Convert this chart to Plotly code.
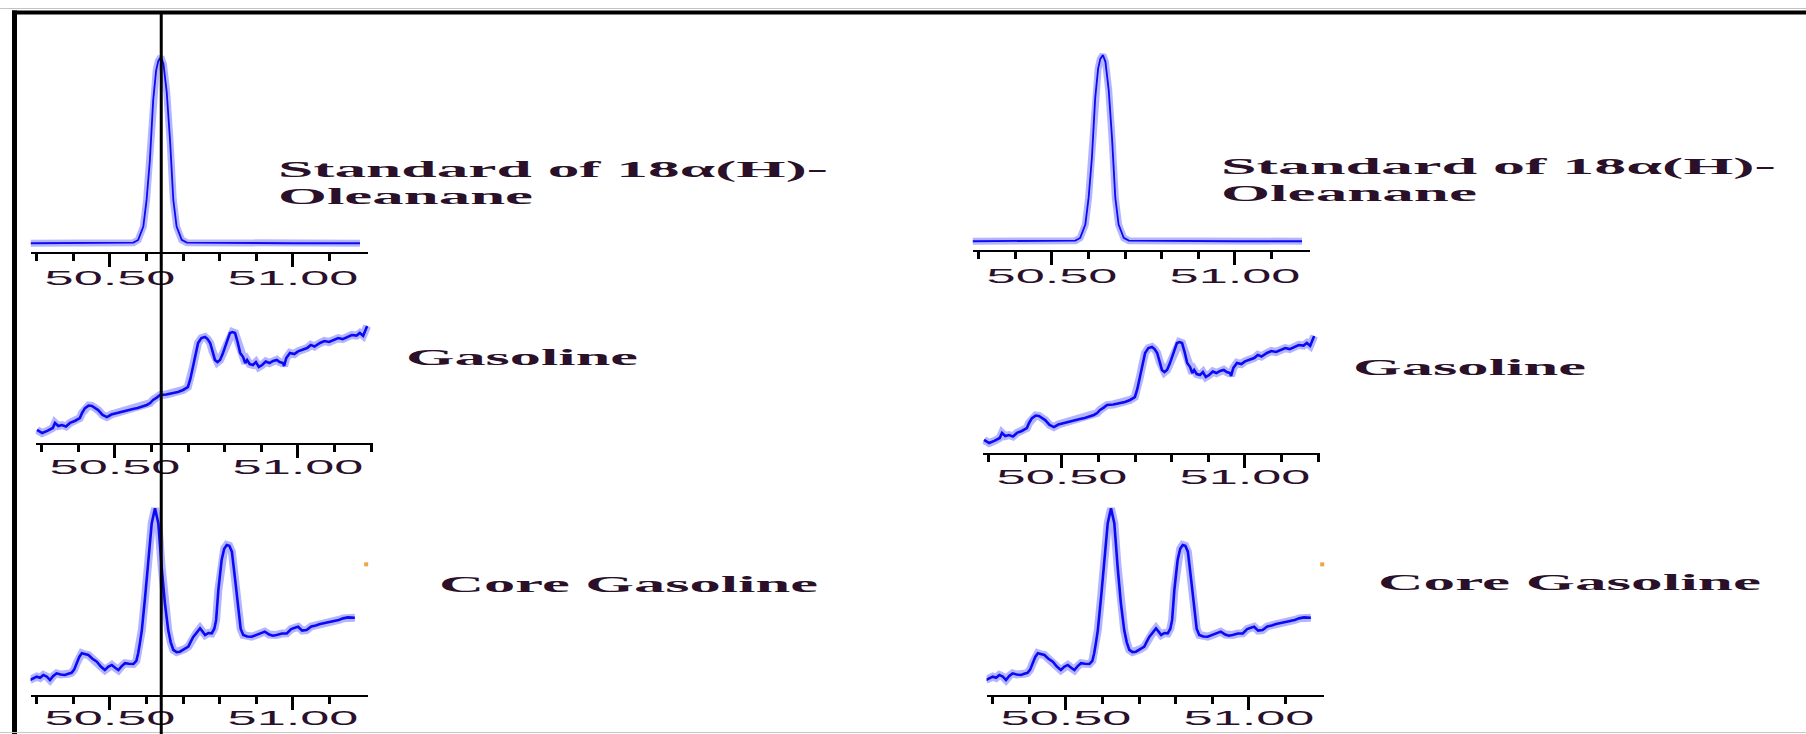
import json
import plotly.graph_objects as go

# ---- chromatogram data: retention time (min) vs. relative intensity (standard peak = 100)
STD_RT = [50.283, 50.40, 50.50, 50.564, 50.577, 50.591, 50.600, 50.609, 50.618, 50.626,
          50.632, 50.639, 50.646, 50.655, 50.664, 50.673, 50.682, 50.696, 50.710, 50.85,
          51.00, 51.183]
STD_I = [4.5, 4.5, 4.5, 4.8, 6.2, 13.0, 26.7, 47.2, 77.9, 93.0,
         98.0, 100.0, 96.5, 82.0, 57.4, 26.7, 13.0, 6.2, 4.8, 4.5,
         4.5, 4.5]

GAS_RT = [50.287, 50.301, 50.315, 50.330, 50.336, 50.345, 50.355, 50.366, 50.377, 50.390,
          50.404, 50.410, 50.418, 50.428, 50.437, 50.446, 50.454, 50.466, 50.478, 50.490,
          50.505, 50.520, 50.535, 50.549, 50.562, 50.575, 50.587, 50.596, 50.604, 50.614,
          50.623, 50.640, 50.658, 50.672, 50.686, 50.699, 50.706, 50.713, 50.720, 50.727,
          50.736, 50.746, 50.753, 50.760, 50.767, 50.773, 50.780, 50.787, 50.794, 50.801,
          50.808, 50.814, 50.821, 50.828, 50.835, 50.842, 50.850, 50.856, 50.861, 50.868,
          50.877, 50.885, 50.893, 50.902, 50.912, 50.922, 50.932, 50.942, 50.950, 50.959,
          50.962, 50.968, 50.978, 50.990, 51.000, 51.012, 51.025, 51.035, 51.045, 51.060,
          51.072, 51.085, 51.096, 51.110, 51.122, 51.134, 51.147, 51.160, 51.169, 51.178,
          51.189]
GAS_I = [6.7, 5.1, 6.2, 7.7, 10.3, 8.7, 9.2, 8.5, 10.3, 11.3,
         12.8, 15.4, 17.9, 19.2, 19.0, 18.0, 16.9, 14.4, 13.3, 14.6,
         15.4, 15.9, 16.7, 17.4, 17.9, 18.7, 19.5, 20.5, 22.1, 23.3,
         24.6, 24.9, 25.6, 26.2, 27.2, 28.7, 33.0, 39.0, 45.5, 51.3,
         53.8, 54.4, 53.3, 51.3, 46.7, 42.6, 41.5, 42.6, 45.6, 49.2,
         53.8, 56.4, 56.9, 56.4, 51.8, 46.2, 44.1, 41.0, 42.6, 40.5,
         40.0, 41.5, 39.0, 40.0, 41.8, 41.0, 42.1, 42.6, 41.5, 41.0,
         39.5, 43.6, 46.2, 45.6, 47.0, 47.7, 48.7, 50.3, 49.5, 51.3,
         52.3, 51.8, 52.8, 53.8, 53.3, 54.4, 55.4, 55.1, 56.4, 55.0,
         60.0]

CORE_RT = [50.281, 50.290, 50.300, 50.309, 50.318, 50.327, 50.336, 50.345, 50.354, 50.365,
           50.377, 50.386, 50.395, 50.402, 50.409, 50.416, 50.423, 50.432, 50.441, 50.452,
           50.464, 50.475, 50.486, 50.495, 50.505, 50.514, 50.523, 50.532, 50.541, 50.552,
           50.564, 50.572, 50.577, 50.582, 50.587, 50.596, 50.605, 50.614, 50.623, 50.632,
           50.641, 50.650, 50.659, 50.666, 50.673, 50.682, 50.691, 50.702, 50.714, 50.721,
           50.728, 50.737, 50.746, 50.753, 50.760, 50.769, 50.778, 50.785, 50.790, 50.796,
           50.805, 50.812, 50.819, 50.826, 50.833, 50.842, 50.851, 50.857, 50.864, 50.875,
           50.887, 50.900, 50.912, 50.923, 50.935, 50.945, 50.955, 50.970, 50.983, 50.995,
           51.005, 51.014, 51.025, 51.037, 51.050, 51.062, 51.074, 51.090, 51.110, 51.125,
           51.137, 51.150, 51.169]
CORE_I = [7.7, 8.7, 9.4, 8.8, 10.3, 9.5, 7.7, 9.8, 11.1, 10.5,
          10.3, 10.9, 11.4, 13.0, 16.3, 19.5, 21.4, 20.8, 20.5, 18.6,
          17.1, 14.6, 12.8, 14.4, 15.4, 14.0, 12.8, 14.8, 16.3, 16.0,
          15.9, 17.5, 21.4, 27.0, 33.3, 50.4, 70.9, 88.1, 95.7, 88.1,
          65.8, 47.0, 33.3, 27.0, 23.1, 22.0, 22.2, 23.4, 24.8, 27.5,
          29.9, 32.0, 34.2, 32.5, 30.8, 31.8, 31.6, 34.0, 38.5, 53.8,
          69.2, 75.0, 76.9, 76.5, 73.5, 59.0, 41.9, 34.0, 30.8, 30.0,
          29.9, 30.8, 31.9, 32.5, 31.0, 30.4, 30.8, 31.5, 31.6, 33.8,
          34.5, 35.0, 33.0, 33.3, 35.2, 35.6, 36.4, 37.0, 37.6, 38.5,
          39.3, 39.8, 39.6]

# retention time of the 18α(H)-oleanane standard peak (reference marker line)
OLEANANE_RT = 50.64

# stray point recorded next to the core sample traces
STRAY_RT = [51.20]
STRAY_I = [67.0]

# axis ticks
MAJOR_TICKS = [50.50, 51.00]
MAJOR_TEXT = ["50.50", "51.00"]
MINOR_TO_5110 = [50.3, 50.4, 50.6, 50.7, 50.8, 50.9, 51.1]
MINOR_TO_5120 = [50.3, 50.4, 50.6, 50.7, 50.8, 50.9, 51.1, 51.2]

# labels
LABEL_STD_1 = "Standard of 18α(H)-"
LABEL_STD_2 = "Oleanane"
LABEL_GAS = "Gasoline"
LABEL_CORE = "Core Gasoline"

# ---- geometry
W, H = 1806, 734
X0, X1 = 50.283, 51.205          # time window of every panel
PX_PER_MIN = 366.0               # horizontal scale
PX_PER_UNIT = 1.95               # vertical scale
Y_TOP = 105.0                    # intensity range shown

samples = {
    "std": (STD_RT, STD_I),
    "gas": (GAS_RT, GAS_I),
    "core": (CORE_RT, CORE_I),
}

# (sample, axis baseline y in px, x px of 50.50, minor ticks, tick label standoff)
panels = [
    ("std", 252, 110, MINOR_TO_5110, -6),
    ("gas", 443, 115, MINOR_TO_5120, -8),
    ("core", 695, 110, MINOR_TO_5110, -9),
    ("std", 250, 1052, MINOR_TO_5110, -6),
    ("gas", 453, 1062, MINOR_TO_5120, -8),
    ("core", 695, 1066, MINOR_TO_5110, -9),
]

fig = go.Figure()
layout_axes = {}

for i, (key, base_px, p50, minor_vals, standoff) in enumerate(panels, start=1):
    rt, inten = samples[key]
    sfx = "" if i == 1 else str(i)
    xa, ya = "x" + sfx, "y" + sfx

    left = p50 - (50.5 - X0) * PX_PER_MIN
    right = p50 + (X1 - 50.5) * PX_PER_MIN
    top = base_px - Y_TOP * PX_PER_UNIT

    halo_w = 7 if key == "std" else 8
    fig.add_trace(go.Scatter(x=rt, y=inten, xaxis=xa, yaxis=ya, mode="lines",
                             line=dict(color="rgba(60,60,255,0.38)", width=halo_w),
                             hoverinfo="skip", showlegend=False))
    fig.add_trace(go.Scatter(x=rt, y=inten, xaxis=xa, yaxis=ya, mode="lines",
                             line=dict(color="#0a0af5", width=2.6 if key != "std" else 1.8),
                             showlegend=False))
    if key == "core":
        fig.add_trace(go.Scatter(x=STRAY_RT, y=STRAY_I, xaxis=xa, yaxis=ya, mode="markers",
                                 marker=dict(color="#f2a24a", size=4, symbol="square"),
                                 cliponaxis=False, showlegend=False))

    layout_axes["xaxis" + sfx] = dict(
        domain=[left / W, right / W], anchor=ya, range=[X0, X1],
        showgrid=False, zeroline=False,
        showline=True, linecolor="black", linewidth=2,
        tickmode="array", tickvals=MAJOR_TICKS, ticktext=MAJOR_TEXT,
        ticks="outside", ticklen=13, tickwidth=2.5, tickcolor="black",
        ticklabelstandoff=standoff,
        tickfont=dict(family="Liberation Sans, Arial, sans-serif", size=20, color="#2a102a"),
        minor=dict(tickmode="array", tickvals=minor_vals, ticks="outside",
                   ticklen=7, tickwidth=2.5, tickcolor="black", showgrid=False),
        fixedrange=True,
    )
    layout_axes["yaxis" + sfx] = dict(
        domain=[1 - base_px / H, 1 - top / H], anchor=xa, range=[0, Y_TOP],
        visible=False, fixedrange=True,
    )

# ---- sample labels: (text, left px, centre y px, rendered width px)
labels = [
    (LABEL_STD_1, 276, 169, 550),
    (LABEL_STD_2, 276, 196, 256),
    (LABEL_GAS, 404, 357, 233),
    (LABEL_CORE, 437, 584, 380),
    (LABEL_STD_1, 1219, 166, 555),
    (LABEL_STD_2, 1219, 193, 257),
    (LABEL_GAS, 1351, 367, 234),
    (LABEL_CORE, 1376, 582, 384),
]
annotations = []
for text, lx, cy, _w in labels:
    annotations.append(dict(
        text=text, xref="paper", yref="paper", x=lx / W, y=1 - cy / H,
        xanchor="left", yanchor="middle", align="left", showarrow=False,
        font=dict(family="Liberation Serif, Times New Roman, serif", size=24,
                  color="#2a1028", weight="bold"),
    ))

# ---- frame and marker line
shapes = [
    dict(type="line", xref="paper", yref="paper", x0=0, x1=1, y0=1 - 8.5 / H, y1=1 - 8.5 / H,
         line=dict(color="#c4c4c4", width=1)),
    dict(type="line", xref="paper", yref="paper", x0=12 / W, x1=1, y0=1 - 12.5 / H, y1=1 - 12.5 / H,
         line=dict(color="black", width=4)),
    dict(type="line", xref="paper", yref="paper", x0=14.5 / W, x1=14.5 / W, y0=0, y1=1 - 10.5 / H,
         line=dict(color="black", width=5)),
    dict(type="line", xref="paper", yref="paper", x0=0, x1=1, y0=1.5 / H, y1=1.5 / H,
         line=dict(color="#c8c8c8", width=1)),
    dict(type="line", xref="x", yref="paper", x0=OLEANANE_RT, x1=OLEANANE_RT, y0=0, y1=1 - 12.5 / H,
         line=dict(color="black", width=3)),
]

fig.update_layout(
    width=W, height=H, margin=dict(l=0, r=0, t=0, b=0),
    paper_bgcolor="white", plot_bgcolor="rgba(0,0,0,0)",
    showlegend=False, annotations=annotations, shapes=shapes,
    **layout_axes,
)

# Widen the serif labels and tick numbers horizontally (wide typesetting of the figure)
label_widths = json.dumps([w for *_, w in labels])
post_js = """
var gd = document.getElementById('{plot_id}');
var labelWidths = %s;
function widen(t, target, mode) {
  var tr = t.getAttribute('transform') || '';
  if (tr.indexOf('scale(') >= 0) return;
  var b = t.getBBox();
  if (!b.width) return;
  var s = target / b.width;
  var cx = mode === 'left' ? b.x : b.x + b.width / 2;
  t.setAttribute('transform', tr + ' translate(' + cx + ',0) scale(' + s + ',1) translate(' + (-cx) + ',0)');
}
function applyWidening() {
  gd.querySelectorAll('g.annotation').forEach(function (g) {
    var idx = parseInt(g.getAttribute('data-index'));
    var t = g.querySelector('text.annotation-text');
    if (t && labelWidths[idx]) widen(t, labelWidths[idx], 'left');
  });
  gd.querySelectorAll('.xaxislayer-above text').forEach(function (t) {
    widen(t, 131, 'center');
  });
}
applyWidening();
gd.on('plotly_afterplot', applyWidening);
""" % label_widths

fig.write_html("out.html", config={"responsive": False, "displayModeBar": False},
               post_script=post_js)
